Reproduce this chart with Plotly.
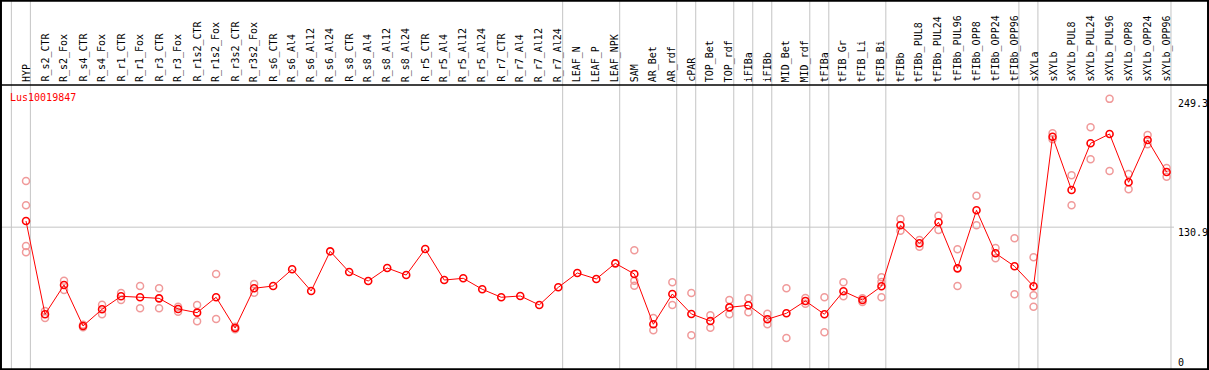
import plotly.graph_objects as go

categories = ["HYP", "R_s2_CTR", "R_s2_Fox", "R_s4_CTR", "R_s4_Fox", "R_r1_CTR", "R_r1_Fox",
              "R_r3_CTR", "R_r3_Fox", "R_r1s2_CTR", "R_r1s2_Fox", "R_r3s2_CTR", "R_r3s2_Fox",
              "R_s6_CTR", "R_s6_Al4", "R_s6_Al12", "R_s6_Al24", "R_s8_CTR", "R_s8_Al4",
              "R_s8_Al12", "R_s8_Al24", "R_r5_CTR", "R_r5_Al4", "R_r5_Al12", "R_r5_Al24",
              "R_r7_CTR", "R_r7_Al4", "R_r7_Al12", "R_r7_Al24", "LEAF_N", "LEAF_P", "LEAF_NPK",
              "SAM", "AR_Bet", "AR_rdf", "cPAR", "TOP_Bet", "TOP_rdf", "iFIBa", "iFIBb",
              "MID_Bet", "MID_rdf", "tFIBa", "tFIB_Gr", "tFIB_Li", "tFIB_Bi", "tFIBb",
              "tFIBb_PUL8", "tFIBb_PUL24", "tFIBb_PUL96", "tFIBb_OPP8", "tFIBb_OPP24",
              "tFIBb_OPP96", "sXYLa", "sXYLb", "sXYLb_PUL8", "sXYLb_PUL24", "sXYLb_PUL96",
              "sXYLb_OPP8", "sXYLb_OPP24", "sXYLb_OPP96"]

means = [136.6, 50.5, 77.5, 39.7, 55.1, 67.1, 66.2, 65.2, 55.4, 52.0, 66.2, 37.8, 74.5,
         76.6, 92.0, 72.0, 108.6, 89.5, 81.2, 93.2, 86.7, 110.7, 82.1, 83.7, 73.6,
         66.2, 67.4, 59.1, 75.4, 88.6, 83.1, 97.5,
         87.7, 41.3, 69.2, 50.8, 44.3, 56.9, 58.8, 45.9, 51.4, 62.8, 50.5, 71.7, 63.7, 76.3,
         132.6, 116.0, 135.4, 92.9, 146.5, 106.8, 94.8, 76.3,
         214.4, 165.2, 208.3, 216.9, 172.3, 211.3, 181.8]

replicates = [
    [173.5, 151.1, 113.5, 107.7], [53.5, 47.1], [81.5, 72.9], [40.9, 38.5], [59.3, 50.5],
    [70.1, 63.7], [76.6, 56.0], [74.5, 56.0], [57.5, 52.9], [59.1, 44.0], [87.7, 46.1],
    [39.0, 36.6], [78.4, 70.4],
    [], [], [], [], [], [], [], [], [], [], [], [], [], [], [], [], [], [], [],
    [109.5, 81.5, 76.9], [47.1, 35.7], [80.0, 59.1], [70.1, 31.1], [49.6, 38.1],
    [63.7, 50.5], [65.2, 52.3], [51.0, 41.3], [74.5, 28.6], [65.5, 60.3], [66.2, 33.9],
    [80.0, 67.1], [65.2, 61.8], [84.6, 80.3, 66.2],
    [138.4, 127.6], [119.0, 112.9], [141.5, 128.3], [110.5, 76.6], [159.9, 132.6],
    [111.7, 102.2], [120.6, 68.9], [103.1, 68.0, 57.5],
    [217.5, 212.0], [178.8, 151.1], [223.1, 193.5], [249.3, 182.7], [180.0, 165.8],
    [215.9, 207.4], [185.5, 177.5]]

# index of the last category in each group (separator drawn just after it)
group_ends = [-1, 0, 28, 31, 34, 35, 37, 38, 39, 41, 42, 45, 52, 53, 60]
gene = "Lus10019847"
axis_labels = [249.3, 130.9, 0]

W, H = 1209, 370
x_idx = list(range(len(categories)))

rep_x, rep_y = [], []
for i, reps in enumerate(replicates):
    for v in reps:
        rep_x.append(i)
        rep_y.append(v)

fig = go.Figure()
fig.add_trace(go.Scatter(x=rep_x, y=rep_y, mode="markers",
                         marker=dict(symbol="circle-open", size=7, color="#f09a9a",
                                     line=dict(width=1.5, color="#f09a9a")),
                         hoverinfo="skip", showlegend=False))
fig.add_trace(go.Scatter(x=x_idx, y=means, mode="lines+markers",
                         line=dict(color="#ff0000", width=1),
                         marker=dict(symbol="circle-open", size=7, color="#ff0000",
                                     line=dict(width=1.6, color="#ff0000")),
                         showlegend=False))

shapes = []
# separators
for g in group_ends:
    shapes.append(dict(type="line", xref="x", yref="paper", x0=g + 0.23, x1=g + 0.23,
                       y0=0, y1=1.31, line=dict(color="#c4c4c4", width=1), layer="below"))
# horizontal grid line
shapes.append(dict(type="line", xref="paper", yref="y", x0=0, x1=1174 / W,
                   y0=axis_labels[1], y1=axis_labels[1],
                   line=dict(color="#c4c4c4", width=1), layer="below"))
# header separator
shapes.append(dict(type="line", xref="paper", yref="paper", x0=0, x1=1, y0=1, y1=1,
                   line=dict(color="black", width=1.5)))
# outer frame
shapes.append(dict(type="rect", xref="paper", yref="paper", x0=0.0008, x1=0.9992,
                   y0=-0.001, y1=1.297, line=dict(color="black", width=2)))

annotations = []
for i, c in enumerate(categories):
    annotations.append(dict(x=i, y=1, xref="x", yref="paper", text=c, showarrow=False,
                            textangle=-90, xanchor="center", yanchor="bottom", yshift=1,
                            font=dict(family="DejaVu Sans Mono", size=10, color="black")))
annotations.append(dict(x=8 / W, y=1, xref="paper", yref="paper", text=gene,
                        showarrow=False, xanchor="left", yanchor="top", yshift=-5,
                        font=dict(family="DejaVu Sans Mono", size=10, color="#ff0000")))
for v, sh in zip(axis_labels, [-5, -5, 7]):
    annotations.append(dict(x=1176 / W, y=v, xref="paper", yref="y", text=str(v),
                            showarrow=False, xanchor="left", yanchor="middle", yshift=sh,
                            font=dict(family="DejaVu Sans Mono", size=10, color="black")))

fig.update_layout(
    width=W, height=H, autosize=False,
    margin=dict(l=0, r=0, t=85, b=1, pad=0),
    paper_bgcolor="white", plot_bgcolor="rgba(0,0,0,0)",
    xaxis=dict(range=[-1.368, 62.23], showgrid=False, zeroline=False,
               showticklabels=False, showline=False, ticks=""),
    yaxis=dict(range=[0, 262.1], showgrid=False, zeroline=False,
               showticklabels=False, showline=False, ticks=""),
    shapes=shapes, annotations=annotations,
)

fig.write_html("out.html", config={"displayModeBar": False},
               post_script="document.body.style.margin='0';")
